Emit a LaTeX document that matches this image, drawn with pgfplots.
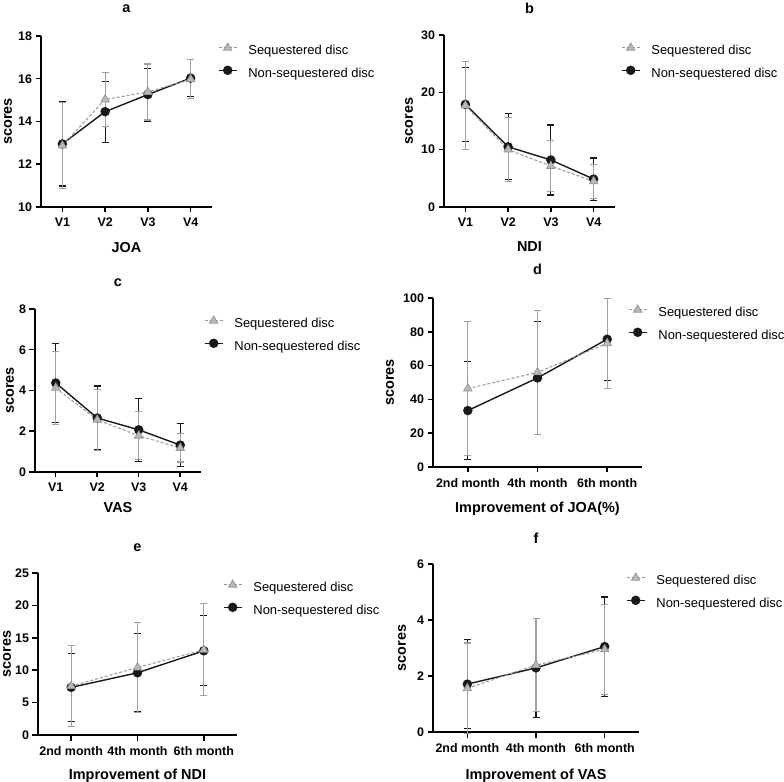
\documentclass[border=0pt]{standalone}
\usepackage{fontspec}
\setmainfont{Liberation Sans}
\usepackage{pgfplots}
\pgfplotsset{compat=1.18}
\definecolor{seqline}{RGB}{150,150,150}
\definecolor{seqfill}{RGB}{185,185,185}
\definecolor{seqbar}{RGB}{160,160,160}
\definecolor{nonblk}{RGB}{25,25,25}
\pgfplotsset{
  legend image code/.code={\draw[#1, mark repeat=2, mark phase=2] plot coordinates {(0bp,3.5bp) (9bp,3.5bp) (18bp,3.5bp)};},
  panel/.style={
    scale only axis, clip=false,
    axis lines=left,
    axis line style={-, line width=1.9bp, black},
    every tick/.style={line width=1.5bp, black},
    major tick length=5.5bp,
    tick align=outside,
    xtick pos=left, ytick pos=left,
    /pgf/number format/assume math mode=true,
    ticklabel style={font=\bfseries\fontsize{12.5}{13}\selectfont},
    xticklabel style={yshift=-2bp},
    label style={font=\bfseries\fontsize{14.5}{16}\selectfont},
    title style={font=\bfseries\fontsize{14.5}{16}\selectfont, at={(0.5,1)}, anchor=base},
    legend cell align=left,
    legend style={draw=none, fill=none, inner sep=0pt, outer sep=0pt, at={(1,1)}, anchor=north west,
      font=\fontsize{13}{14}\selectfont,
      nodes={inner sep=0pt, outer sep=0pt, text height=9.3bp, text depth=2.7bp},
      row sep=9bp, column sep=11bp},
    reverse legend,
  },
  seqst/.style={color=seqline, densely dashed, line width=1bp, mark=triangle*, mark size=4.8bp,
    mark options={solid, fill=seqfill, draw=seqline, line width=0.8bp},
    error bars/.cd, y dir=both, y explicit,
    error bar style={line width=1.1bp, seqbar, solid},
    error mark options={rotate=90, mark size=3.5bp, line width=1.1bp, seqbar, solid}},
  nonst/.style={color=nonblk, solid, line width=1.4bp, mark=*, mark size=4bp,
    mark options={solid, fill=nonblk, draw=nonblk},
    error bars/.cd, y dir=both, y explicit,
    error bar style={line width=1.1bp, nonblk, solid},
    error mark options={rotate=90, mark size=3.5bp, line width=1.1bp, nonblk, solid}},
}
\begin{document}
\begin{tikzpicture}
\path[use as bounding box] (0,0) rectangle (784bp,782bp);

% ---------- a ----------
\begin{axis}[panel, at={(41bp,575bp)}, anchor=south west, width=171bp, height=171bp,
  xmin=0.5, xmax=4.5, ymin=10, ymax=18, ytick={10,12,14,16,18},
  xtick={1,2,3,4}, xticklabels={V1,V2,V3,V4},
  title={a}, title style={yshift=18bp},
  xlabel={JOA}, xlabel style={at={(0.5,0)}, anchor=base, yshift=-46bp},
  ylabel={scores}, ylabel style={at={([xshift=-33bp]axis description cs:0,0.5)}, anchor=center},
  legend style={xshift=6bp, yshift=-7bp}]
\addplot+[nonst] coordinates {(1,12.95) +- (0,1.97) (2,14.46) +- (0,1.43) (3,15.26) +- (0,1.24) (4,16.03) +- (0,0.88)};
\addplot+[seqst] coordinates {(1,12.87) +- (0,2.02) (2,15.03) +- (0,1.27) (3,15.38) +- (0,1.31) (4,15.98) +- (0,0.92)};
\legend{Non-sequestered disc, Sequestered disc}
\end{axis}

% ---------- b ----------
\begin{axis}[panel, at={(444bp,575bp)}, anchor=south west, width=171bp, height=172bp,
  xmin=0.5, xmax=4.5, ymin=0, ymax=30, ytick={0,10,20,30},
  xtick={1,2,3,4}, xticklabels={V1,V2,V3,V4},
  title={b}, title style={yshift=16bp},
  xlabel={NDI}, xlabel style={at={(0.5,0)}, anchor=base, yshift=-45bp},
  ylabel={scores}, ylabel style={at={([xshift=-35bp]axis description cs:0,0.5)}, anchor=center},
  legend style={xshift=6bp, yshift=-8bp}]
\addplot+[nonst] coordinates {(1,17.9) +- (0,6.45) (2,10.5) +- (0,5.75) (3,8.2) +- (0,6.1) (4,4.87) +- (0,3.68)};
\addplot+[seqst] coordinates {(1,17.7) +- (0,7.6) (2,10.0) +- (0,5.6) (3,7.14) +- (0,4.5) (4,4.47) +- (0,3.0)};
\legend{Non-sequestered disc, Sequestered disc}
\end{axis}

% ---------- c ----------
\begin{axis}[panel, at={(35bp,310bp)}, anchor=south west, width=166bp, height=163bp,
  xmin=0.5, xmax=4.5, ymin=0, ymax=8, ytick={0,2,4,6,8},
  xtick={1,2,3,4}, xticklabels={V1,V2,V3,V4},
  title={c}, title style={yshift=17bp},
  xlabel={VAS}, xlabel style={at={(0.5,0)}, anchor=base, yshift=-41bp},
  ylabel={scores}, ylabel style={at={([xshift=-25bp]axis description cs:0,0.5)}, anchor=center},
  legend style={xshift=3bp, yshift=-7bp}]
\addplot+[nonst] coordinates {(1,4.37) +- (0,1.93) (2,2.65) +- (0,1.57) (3,2.07) +- (0,1.55) (4,1.32) +- (0,1.07)};
\addplot+[seqst] coordinates {(1,4.13) +- (0,1.8) (2,2.56) +- (0,1.5) (3,1.78) +- (0,1.17) (4,1.18) +- (0,0.69)};
\legend{Non-sequestered disc, Sequestered disc}
\end{axis}

% ---------- d ----------
\begin{axis}[panel, at={(433bp,315bp)}, anchor=south west, width=209bp, height=169bp,
  xmin=0.5, xmax=3.5, ymin=0, ymax=100, ytick={0,20,40,60,80,100},
  xtick={1,2,3}, xticklabels={2nd month,4th month,6th month},
  title={d}, title style={yshift=18bp},
  xlabel={Improvement of JOA(\%)}, xlabel style={at={(0.5,0)}, anchor=base, yshift=-46bp},
  ylabel={scores}, ylabel style={at={([xshift=-43bp]axis description cs:0,0.5)}, anchor=center},
  legend style={xshift=-14bp, yshift=-7bp}]
\addplot+[nonst] coordinates {(1,33.4) +- (0,29.0) (2,52.7) +- (0,33.4) (3,75.6) +- (0,24.3)};
\addplot+[seqst] coordinates {(1,46.4) +- (0,39.5) (2,56.0) +- (0,36.6) (3,73.2) +- (0,26.7)};
\legend{Non-sequestered disc, Sequestered disc}
\end{axis}

% ---------- e ----------
\begin{axis}[panel, at={(38bp,47bp)}, anchor=south west, width=199bp, height=162bp,
  xmin=0.5, xmax=3.5, ymin=0, ymax=25, ytick={0,5,10,15,20,25},
  xtick={1,2,3}, xticklabels={2nd month,4th month,6th month},
  title={e}, title style={yshift=16bp},
  xlabel={Improvement of NDI}, xlabel style={at={(0.5,0)}, anchor=base, yshift=-44bp},
  ylabel={scores}, ylabel style={at={([xshift=-31bp]axis description cs:0,0.5)}, anchor=center},
  legend style={xshift=-14bp, yshift=-7bp}]
\addplot+[nonst] coordinates {(1,7.35) +- (0,5.2) (2,9.6) +- (0,6.0) (3,13.0) +- (0,5.4)};
\addplot+[seqst] coordinates {(1,7.55) +- (0,6.2) (2,10.42) +- (0,7.0) (3,13.15) +- (0,7.1)};
\legend{Non-sequestered disc, Sequestered disc}
\end{axis}

% ---------- f ----------
\begin{axis}[panel, at={(433bp,50bp)}, anchor=south west, width=206bp, height=168bp,
  xmin=0.5, xmax=3.5, ymin=0, ymax=6, ytick={0,2,4,6},
  xtick={1,2,3}, xticklabels={2nd month,4th month,6th month},
  title={f}, title style={yshift=15bp},
  xlabel={Improvement of VAS}, xlabel style={at={(0.5,0)}, anchor=base, yshift=-47bp},
  ylabel={scores}, ylabel style={at={([xshift=-31bp]axis description cs:0,0.5)}, anchor=center},
  legend style={xshift=-13bp, yshift=-9bp}]
\addplot+[nonst] coordinates {(1,1.71) +- (0,1.58) (2,2.29) +- (0,1.77) (3,3.05) +- (0,1.77)};
\addplot+[seqst] coordinates {(1,1.56) +- (0,1.62) (2,2.39) +- (0,1.65) (3,2.95) +- (0,1.6)};
\legend{Non-sequestered disc, Sequestered disc}
\end{axis}
\end{tikzpicture}
\end{document}
